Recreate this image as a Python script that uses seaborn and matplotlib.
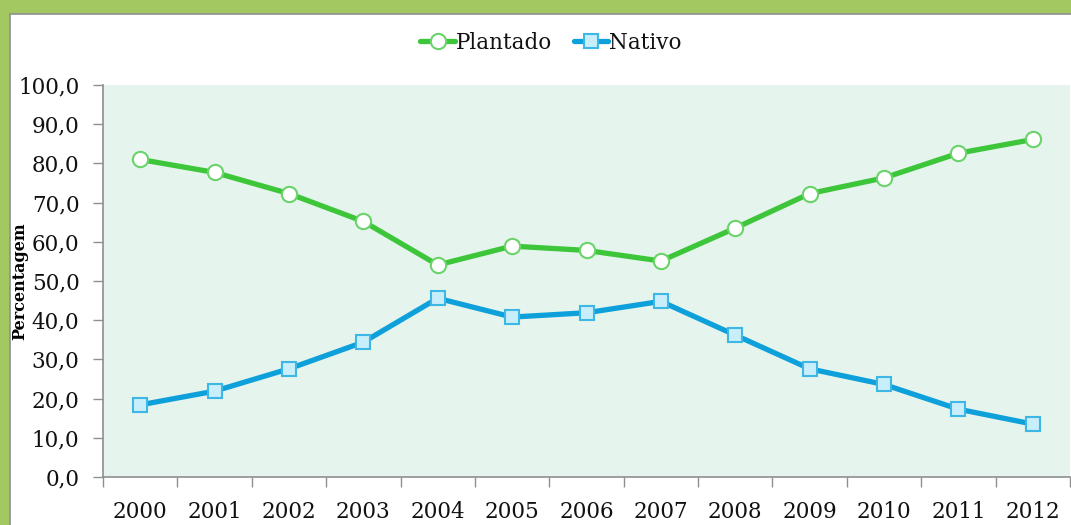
import matplotlib
matplotlib.use("Agg")
import matplotlib.pyplot as plt
import matplotlib.patches as mpatches
from matplotlib.ticker import FixedLocator, FuncFormatter
import seaborn as sns
import pandas as pd

# --- data ---
years = ['2000', '2001', '2002', '2003', '2004', '2005', '2006',
         '2007', '2008', '2009', '2010', '2011', '2012']
plantado = [81.0, 77.7, 72.3, 65.2, 54.1, 58.9, 57.8, 55.1, 63.5, 72.3, 76.3, 82.6, 86.1]
nativo = [18.4, 21.9, 27.6, 34.4, 45.6, 40.8, 41.9, 44.8, 36.2, 27.6, 23.6, 17.3, 13.5]
series_names = ['Plantado', 'Nativo']

df = pd.DataFrame({'ano': years * 2,
                   'valor': plantado + nativo,
                   'serie': [series_names[0]] * len(years) + [series_names[1]] * len(years)})

sns.set_theme(style="white")
plt.rcParams['font.family'] = ['DejaVu Serif']

fig = plt.figure(figsize=(10.71, 5.25), dpi=100)
fig.patch.set_facecolor('#a3c862')
# white chart area inside the green frame
fig.patches.append(mpatches.Rectangle((10 / 1071, -0.01), 1, 1.01 - 14 / 525,
                                      transform=fig.transFigure, facecolor='white',
                                      edgecolor='#8f8f8f', linewidth=1.2, zorder=-10))

ax = fig.add_axes([103 / 1071, 1 - 477 / 525, (1070 - 103) / 1071, (477 - 85) / 525])
ax.set_facecolor('#e5f4ec')

palette = {'Plantado': '#3dc63a', 'Nativo': '#0ea0db'}
sns.lineplot(data=df, x='ano', y='valor', hue='serie', palette=palette,
             linewidth=3.8, ax=ax, legend=False, sort=False)

# markers
ax.plot(range(len(years)), plantado, linestyle='none', marker='o', markersize=11,
        markerfacecolor='white', markeredgecolor='#6ad36a', markeredgewidth=1.5, zorder=5)
ax.plot(range(len(years)), nativo, linestyle='none', marker='s', markersize=10,
        markerfacecolor='#c8eefc', markeredgecolor='#3db8e6', markeredgewidth=1.5, zorder=5)

ax.set_xlim(-0.5, len(years) - 0.5)
ax.set_ylim(0, 100)
ax.set_yticks(range(0, 101, 10))
ax.yaxis.set_major_formatter(FuncFormatter(lambda v, p: f"{v:.1f}".replace('.', ',')))
ax.tick_params(axis='y', which='major', left=True, length=7, width=1, color='#8f8f8f',
               pad=10, labelsize=15.5, labelcolor='#111111')
ax.tick_params(axis='x', which='major', bottom=False, length=0, pad=17,
               labelsize=15.5, labelcolor='#111111')
ax.xaxis.set_minor_locator(FixedLocator([i - 0.5 for i in range(len(years) + 1)]))
ax.tick_params(axis='x', which='minor', bottom=True, length=7, width=1, color='#8f8f8f')

for s in ['top', 'right']:
    ax.spines[s].set_visible(False)
for s in ['left', 'bottom']:
    ax.spines[s].set_color('#8f8f8f')
    ax.spines[s].set_linewidth(1.2)

ax.set_xlabel('')
ax.set_ylabel('Percentagem', fontsize=11.5, fontweight='bold', color='black')
ax.yaxis.set_label_coords(-0.077, 0.5)

handles = [
    plt.Line2D([], [], color=palette['Plantado'], linewidth=3.8, marker='o', markersize=11,
               markerfacecolor='white', markeredgecolor='#6ad36a', markeredgewidth=1.5),
    plt.Line2D([], [], color=palette['Nativo'], linewidth=3.8, marker='s', markersize=10,
               markerfacecolor='#c8eefc', markeredgecolor='#3db8e6', markeredgewidth=1.5),
]
leg = fig.legend(handles, series_names, loc='center', bbox_to_anchor=(551 / 1071, 1 - 43 / 525),
                 ncol=2, frameon=False, fontsize=15.5, handlelength=1.6, handletextpad=0.05,
                 columnspacing=1.0)
for t in leg.get_texts():
    t.set_color('#111111')

fig.savefig('out.png', dpi=100, facecolor=fig.get_facecolor())
